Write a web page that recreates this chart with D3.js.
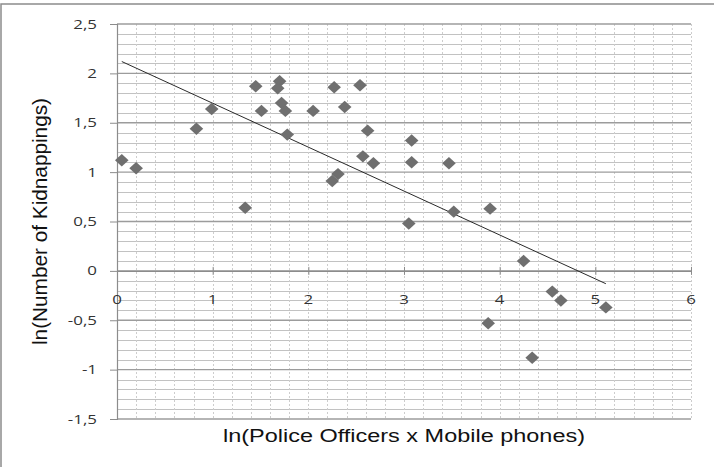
<!DOCTYPE html>
<html>
<head>
<meta charset="utf-8">
<script src="https://cdn.jsdelivr.net/npm/d3@7"></script>
<style>
  html, body { margin: 0; padding: 0; background: #fff; }
  svg { display: block; }
</style>
</head>
<body>
<svg id="chart" width="714" height="467"></svg>
<script>
// ---- data ----
const xValues = [0.05, 0.20, 0.83, 0.99, 1.34, 1.45, 1.51, 1.70, 1.68, 1.72, 1.76, 1.78,
                 2.05, 2.27, 2.54, 2.38, 2.62, 3.08, 2.57, 2.68, 3.08, 3.47, 2.25, 2.31,
                 3.52, 3.90, 3.05, 4.25, 4.55, 4.64, 5.11, 3.88, 4.34];
const yValues = [1.12, 1.04, 1.44, 1.64, 0.64, 1.87, 1.62, 1.92, 1.85, 1.70, 1.62, 1.38,
                 1.62, 1.86, 1.88, 1.66, 1.42, 1.32, 1.16, 1.09, 1.10, 1.09, 0.91, 0.98,
                 0.60, 0.63, 0.48, 0.10, -0.21, -0.30, -0.37, -0.53, -0.88];
const trendX = [0.05, 5.11];
const trendY = [2.12, -0.13];
const xTickValues = [0, 1, 2, 3, 4, 5, 6];
const yTickValues = [-1.5, -1, -0.5, 0, 0.5, 1, 1.5, 2, 2.5];
const xTitle = "ln(Police Officers x  Mobile phones)";
const yTitle = "ln(Number of Kidnappings)";

// ---- layout ----
const svg = d3.select("#chart");
const pLeft = 117, pRight = 691, pTop = 24, pBottom = 419;
const x = d3.scaleLinear().domain([0, 6]).range([pLeft, pRight]);
const y = d3.scaleLinear().domain([-1.5, 2.5]).range([pBottom, pTop]);
const stretch = 1.3;
const fmt = v => String(v).replace(".", ",");

// outer frame
svg.append("path")
  .attr("d", "M1,467 L1,4 L714,4")
  .attr("fill", "none").attr("stroke", "#8c8c8c").attr("stroke-width", 1.5);

// minor horizontal gridlines every 0.1
const minorY = d3.range(-15, 26).map(i => i / 10).filter(v => Math.abs(v * 2 - Math.round(v * 2)) > 1e-6);
svg.append("g").selectAll("line").data(minorY).join("line")
  .attr("x1", pLeft).attr("x2", pRight)
  .attr("y1", d => Math.round(y(d)) + 0.5).attr("y2", d => Math.round(y(d)) + 0.5)
  .attr("stroke", "#c2c2c2").attr("stroke-width", 1);

// vertical dashed gridlines every 0.2
const minorX = d3.range(1, 31).map(i => i / 5);
svg.append("g").selectAll("line").data(minorX).join("line")
  .attr("x1", d => Math.round(x(d)) + 0.5).attr("x2", d => Math.round(x(d)) + 0.5)
  .attr("y1", pTop).attr("y2", pBottom)
  .attr("stroke", "#cdcdcd").attr("stroke-width", 1).attr("stroke-dasharray", "2,2");

// major horizontal gridlines every 0.5
svg.append("g").selectAll("line").data(yTickValues).join("line")
  .attr("x1", pLeft).attr("x2", pRight)
  .attr("y1", d => y(d)).attr("y2", d => y(d))
  .attr("stroke", "#9c9c9c").attr("stroke-width", 1.4);

// y axis
const yAxis = d3.axisLeft(y).tickValues(yTickValues).tickSize(7).tickFormat("");
const gy = svg.append("g").attr("transform", `translate(${pLeft},0)`).call(yAxis);
gy.select(".domain").attr("stroke", "#8c8c8c").attr("stroke-width", 1.2);
gy.selectAll(".tick line").attr("stroke", "#8c8c8c");

// x axis along y = 0
const xAxis = d3.axisBottom(x).tickValues(xTickValues).tickSize(4).tickSizeOuter(0).tickFormat("");
const gx = svg.append("g").attr("transform", `translate(0,${y(0)})`).call(xAxis);
gx.select(".domain").attr("stroke", "#8c8c8c").attr("stroke-width", 1.4);
gx.selectAll(".tick line").attr("stroke", "#8c8c8c").attr("y1", -4);

// tick labels (stretched like the reference)
svg.append("g").selectAll("text").data(yTickValues).join("text")
  .attr("transform", d => `translate(97,${y(d) + 4.5}) scale(${stretch},1)`)
  .attr("text-anchor", "end")
  .attr("font-family", "Open Sans, sans-serif").attr("font-size", 13)
  .attr("fill", "#333").text(fmt);

svg.append("g").selectAll("text").data(xTickValues).join("text")
  .attr("transform", d => `translate(${x(d)},304) scale(${stretch},1)`)
  .attr("text-anchor", "middle")
  .attr("font-family", "Open Sans, sans-serif").attr("font-size", 13)
  .attr("fill", "#333").text(fmt);

// trend line
svg.append("line")
  .attr("x1", x(trendX[0])).attr("y1", y(trendY[0]))
  .attr("x2", x(trendX[1])).attr("y2", y(trendY[1]))
  .attr("stroke", "#2a2a2a").attr("stroke-width", 1);

// diamonds
const pts = xValues.map((v, i) => [v, yValues[i]]);
svg.append("g").selectAll("path").data(pts).join("path")
  .attr("d", d => {
    const cx = x(d[0]), cy = y(d[1]), hw = 6.8, hh = 6.2;
    return `M${cx},${cy - hh}L${cx + hw},${cy}L${cx},${cy + hh}L${cx - hw},${cy}Z`;
  })
  .attr("fill", "#6f6f6f");

// axis titles
svg.append("text")
  .attr("x", 404).attr("y", 442)
  .attr("text-anchor", "middle")
  .attr("font-family", "Liberation Sans, Arial, sans-serif").attr("font-size", 18)
  .attr("textLength", 362).attr("lengthAdjust", "spacingAndGlyphs")
  .attr("fill", "#111").text(xTitle);

svg.append("text")
  .attr("transform", "translate(47,221.5) rotate(-90)")
  .attr("text-anchor", "middle")
  .attr("font-family", "Liberation Sans, Arial, sans-serif").attr("font-size", 21)
  .attr("textLength", 247).attr("lengthAdjust", "spacingAndGlyphs")
  .attr("fill", "#111").text(yTitle);
</script>
</body>
</html>
